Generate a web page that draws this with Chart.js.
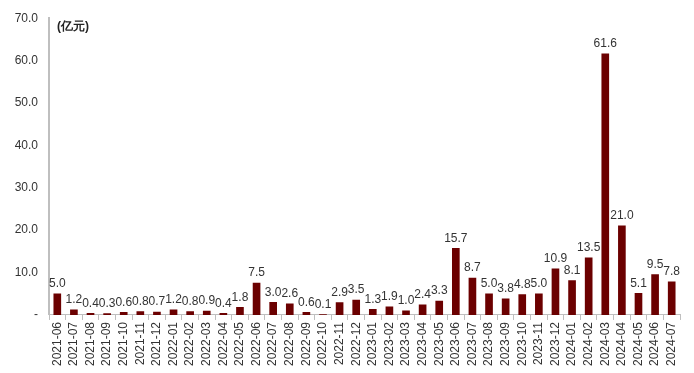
<!DOCTYPE html>
<html><head><meta charset="utf-8">
<script src="https://cdn.jsdelivr.net/npm/chart.js@4/dist/chart.umd.min.js"></script>
<style>html,body{margin:0;padding:0;background:#fff}#wrap{width:694px;height:373px}</style>
</head><body><div id="wrap"><canvas id="c" width="694" height="373"></canvas></div>
<script>
const categories = ["2021-06","2021-07","2021-08","2021-09","2021-10","2021-11","2021-12",
"2022-01","2022-02","2022-03","2022-04","2022-05","2022-06","2022-07","2022-08","2022-09","2022-10","2022-11","2022-12",
"2023-01","2023-02","2023-03","2023-04","2023-05","2023-06","2023-07","2023-08","2023-09","2023-10","2023-11","2023-12",
"2024-01","2024-02","2024-03","2024-04","2024-05","2024-06","2024-07"];
const values = [5.0,1.2,0.4,0.3,0.6,0.8,0.7,
1.2,0.8,0.9,0.4,1.8,7.5,3.0,2.6,0.6,0.1,2.9,3.5,
1.3,1.9,1.0,2.4,3.3,15.7,8.7,5.0,3.8,4.8,5.0,10.9,
8.1,13.5,61.6,21.0,5.1,9.5,7.8];
const yTicks = [0,10,20,30,40,50,60,70];
const unitLabel = "(亿元)";

const FONT = "'Liberation Sans', Arial, sans-serif";
const labelPlugin = {
  id: 'labels',
  afterDatasetsDraw(chart) {
    const ctx = chart.ctx;
    const meta = chart.getDatasetMeta(0);
    ctx.save();
    ctx.font = "12px " + FONT;
    ctx.fillStyle = "#333";
    ctx.textAlign = "center";
    ctx.textBaseline = "bottom";
    meta.data.forEach((bar, i) => {
      ctx.fillText(values[i].toFixed(1), bar.x, bar.y - 4);
    });
    ctx.font = "bold 12px " + FONT;
    ctx.textAlign = "left";
    ctx.textBaseline = "middle";
    ctx.fillStyle = "#222";
    ctx.fillText(unitLabel, chart.chartArea.left + 8, 27);
    ctx.restore();
  }
};

new Chart(document.getElementById('c'), {
  type: 'bar',
  data: { labels: categories, datasets: [{ data: values, backgroundColor: '#6b0000', barThickness: 7 }] },
  options: {
    responsive: false, animation: false,
    layout: { padding: { top: 11, right: 14, left: 0, bottom: 5 } },
    plugins: { legend: { display: false }, tooltip: { enabled: false } },
    scales: {
      x: {
        offset: true,
        grid: { display: true, drawOnChartArea: false, drawTicks: true, tickLength: 5, color: '#bfbfbf', offset: true },
        border: { color: '#bfbfbf', width: 1 },
        ticks: { maxRotation: 90, minRotation: 90, autoSkip: false, color: '#333', font: { size: 12, family: FONT }, padding: 2 }
      },
      y: {
        min: 0, max: 70,
        afterBuildTicks(s) { s.ticks = yTicks.map(v => ({ value: v })); },
        afterFit(s) { s.width = 49; },
        grid: { display: false, drawTicks: false },
        border: { color: '#bfbfbf', width: 2 },
        ticks: { color: '#333', padding: 11, font: { size: 12, family: FONT },
          callback: v => v === 0 ? '-' : Number(v).toFixed(1) }
      }
    }
  },
  plugins: [labelPlugin]
});
</script></body></html>
